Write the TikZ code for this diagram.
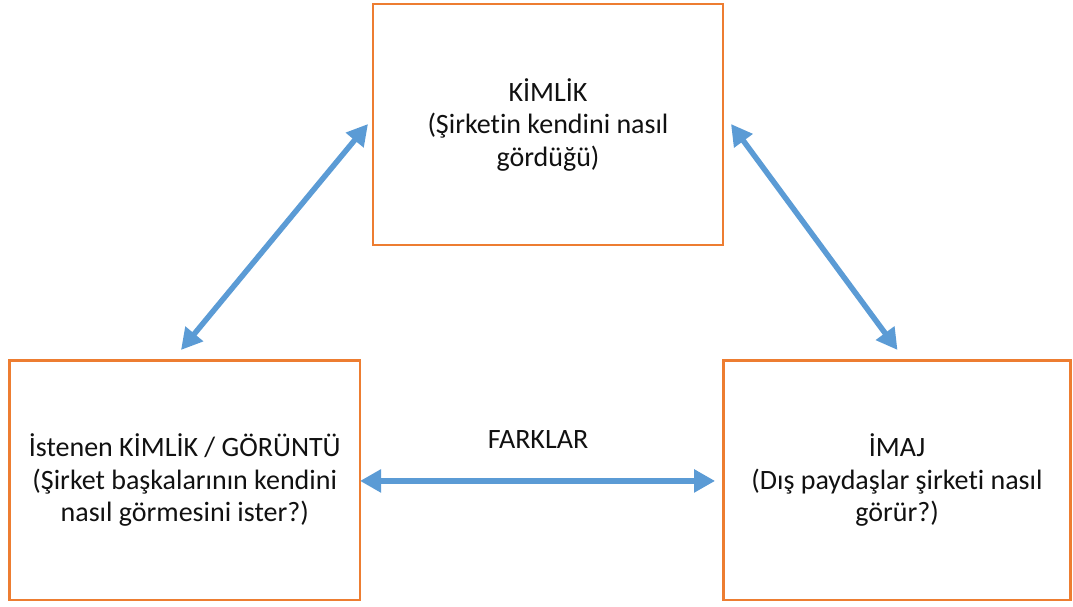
\documentclass[tikz,border=0pt]{standalone}
\usepackage{fontspec}
\setmainfont[Ligatures=NoCommon]{Carlito}
\usetikzlibrary{arrows.meta}
\definecolor{boxorange}{HTML}{ED7D31}
\definecolor{arrowblue}{HTML}{5B9BD5}
\definecolor{textgray}{HTML}{111111}
\tikzset{
  conceptbox/.style={draw=boxorange, line width=2.5pt, fill=white, outer sep=0pt,
    inner sep=0pt, align=center, text=textgray,
    font=\fontsize{28pt}{32.5pt}\selectfont},
  twoway/.style={draw=arrowblue, line width=5.5pt,
    {Triangle[length=21pt,width=22pt]}-{Triangle[length=21pt,width=22pt]}},
  caption/.style={text=textgray, font=\fontsize{28pt}{32.5pt}\selectfont, inner sep=0pt}
}
\begin{document}
\begin{tikzpicture}[x=1pt,y=1pt]
  \useasboundingbox (0,0) rectangle (1073,607);

  % the three concept boxes
  \node[conceptbox, minimum width=350pt, minimum height=241pt] (kimlik) at (548,482.5)
    {KİMLİK\\(Şirketin kendini nasıl\\gördüğü)};
  \node[conceptbox, minimum width=350.5pt, minimum height=239.3pt] (istenen) at (184.75,126.65)
    {İstenen KİMLİK / GÖRÜNTÜ\\(Şirket başkalarının kendini\\nasıl görmesini ister?)};
  \node[conceptbox, minimum width=347.2pt, minimum height=239.3pt] (imaj) at (897,126.65)
    {İMAJ\\(Dış paydaşlar şirketi nasıl\\görür?)};

  % two-way relations between the boxes
  \draw[twoway] ([shift={(-3.75,10.7)}]istenen.north) -- ([shift={(-5,0.5)}]kimlik.west);
  \draw[twoway] ([shift={(8,0.5)}]kimlik.east) -- ([shift={(0.5,10.7)}]imaj.north);
  \draw[twoway] ([shift={(0,-0.6)}]istenen.east) -- ([shift={(-8.3,-0.6)}]imaj.west);

  \node[caption, anchor=base] (farklar) at (538,158.7) {FARKLAR};
\end{tikzpicture}
\end{document}
